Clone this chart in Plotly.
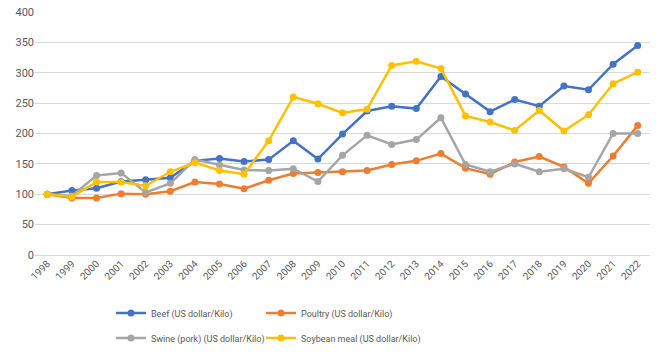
import plotly.graph_objects as go

years = [str(y) for y in range(1998, 2023)]
beef = [100, 106, 110, 121, 124, 127, 155, 159, 154, 157, 188, 158, 199, 237, 245, 241, 294, 265, 236, 256, 245, 278, 272, 314, 345]
poultry = [100, 94, 94, 101, 100, 105, 120, 117, 109, 123, 134, 136, 137, 139, 149, 155, 167, 143, 133, 153, 162, 145, 118, 163, 213]
swine = [100, 97, 131, 135, 103, 118, 157, 148, 140, 139, 142, 121, 164, 197, 182, 190, 226, 149, 137, 150, 137, 142, 128, 200, 200]
soybean = [100, 96, 120, 120, 114, 137, 152, 139, 133, 188, 260, 249, 234, 240, 312, 319, 307, 229, 219, 205, 238, 204, 231, 282, 301]

names = ["Beef (US dollar/Kilo)", "Poultry (US dollar/Kilo)",
         "Swine (pork) (US dollar/Kilo)", "Soybean meal (US dollar/Kilo)"]
colors = ["#4472C4", "#ED7D31", "#A5A5A5", "#FFC000"]
series = [beef, poultry, swine, soybean]
legends = ["legend", "legend2", "legend3", "legend4"]

fig = go.Figure()
for name, vals, col, lg in zip(names, series, colors, legends):
    fig.add_trace(go.Scatter(
        x=years, y=vals, name=name, mode="lines+markers",
        line=dict(color=col, width=2.5),
        marker=dict(color=col, size=7),
        legend=lg,
    ))

FONT = "Roboto, sans-serif"
leg_common = dict(orientation="v", xanchor="left", yanchor="middle", itemwidth=30,
                  font=dict(family=FONT, size=9, color="#595959"),
                  bgcolor="rgba(0,0,0,0)")
xa, xb = 0.1236, 0.3675
ya, yb = -0.2387, -0.3416
fig.update_layout(
    width=657, height=353,
    margin=dict(l=35, r=7, t=12, b=98, autoexpand=False),
    paper_bgcolor="white", plot_bgcolor="white",
    font=dict(family=FONT, size=11, color="#595959"),
    showlegend=True,
    legend=dict(x=xa, y=ya, **leg_common),
    legend2=dict(x=xb, y=ya, **leg_common),
    legend3=dict(x=xa, y=yb, **leg_common),
    legend4=dict(x=xb, y=yb, **leg_common),
)
fig.update_xaxes(type="category", range=[-0.5, len(years) - 0.5], tickangle=-45,
                 showgrid=False, showline=False,
                 ticks="", automargin=False, tickfont=dict(size=10, color="#595959"))
fig.update_yaxes(range=[0, 400], dtick=50, showgrid=True, gridcolor="#D9D9D9",
                 gridwidth=1, zeroline=True, zerolinecolor="#D9D9D9", zerolinewidth=1,
                 showline=False, ticks="", automargin=False,
                 tickfont=dict(size=11, color="#595959"))

fig.write_html("out.html")
